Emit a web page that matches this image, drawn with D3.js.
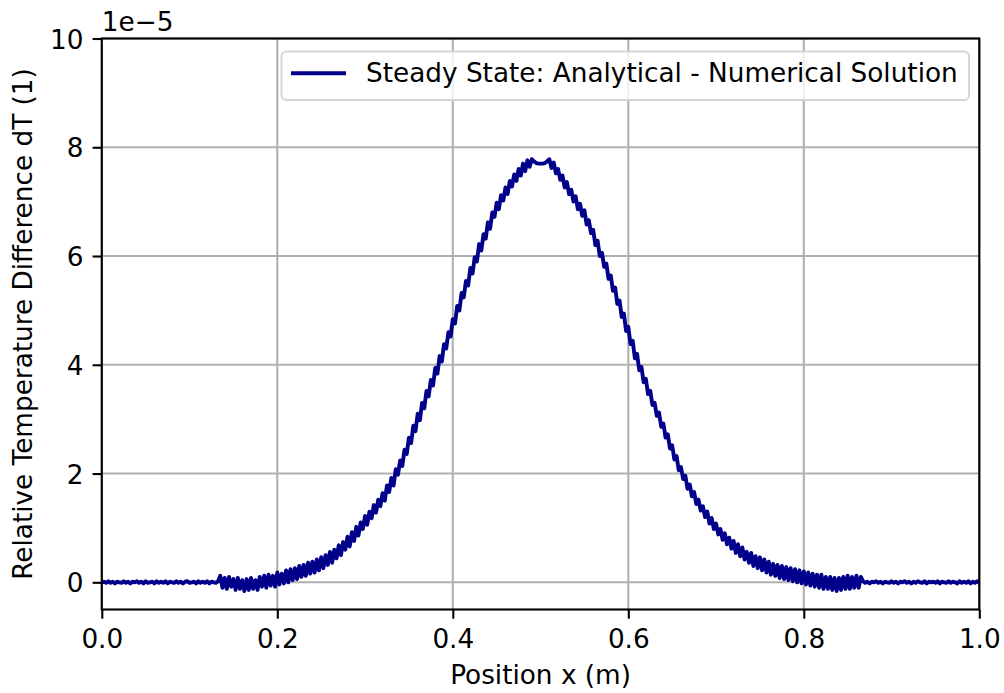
<!DOCTYPE html>
<html>
<head>
<meta charset="utf-8">
<script src="https://cdn.jsdelivr.net/npm/d3@7"></script>
<style>
  body { margin: 0; background: #fff; }
  svg { display: block; font-family: "DejaVu Sans", sans-serif; }
</style>
</head>
<body>
<div class="chart"></div>
<script>
// x grid step of the sampled solution (m)
var xStep = 0.0025;

// dT values, units of 1e-5, one per x step from 0.0 to 1.0
var dTLeftTail = [
  0, 0.01, -0.01, 0.02, -0.01, 0.01, -0.02, 0.01, 0, -0.01,
  0.02, -0.01, 0.01, -0.02, 0.01, 0, 0.02, -0.01, 0.01, -0.02,
  0.02, -0.01, 0, 0.01, -0.02, 0.02, -0.01, 0.01, -0.01, 0.02,
  -0.02, 0.01, 0, -0.01, 0.02, -0.01, 0.01, -0.02, 0.01, 0.02,
  -0.01, 0, 0.01, -0.02, 0.02, -0.01, 0.01, -0.01, 0.02, -0.02,
  0.01, 0, -0.01, 0.02
];
var dTMiddle = [
  0.12, -0.1, 0.08, -0.12, 0.1, -0.08, 0.06, -0.14, 0.08, -0.12,
  0.04, -0.16, 0.06, -0.14, 0.08, -0.12, 0.04, -0.14, 0.1, -0.08,
  0.12, -0.1, 0.14, -0.06, 0.12, -0.08, 0.18, -0.04, 0.16, -0.02,
  0.22, 0.0, 0.24, 0.04, 0.26, 0.06, 0.3, 0.1, 0.32, 0.12,
  0.36, 0.16, 0.38, 0.18, 0.42, 0.22, 0.46, 0.26, 0.5, 0.32,
  0.56, 0.36, 0.6, 0.44, 0.68, 0.5, 0.74, 0.6, 0.84, 0.66,
  0.92, 0.76, 1.02, 0.86, 1.1, 0.98, 1.22, 1.06, 1.3, 1.18,
  1.42, 1.28, 1.52, 1.4, 1.64, 1.5, 1.78, 1.66, 1.92, 1.78,
  2.08, 1.98, 2.24, 2.14, 2.44, 2.36, 2.66, 2.56, 2.88, 2.78,
  3.1, 2.98, 3.3, 3.2, 3.52, 3.42, 3.72, 3.62, 3.94, 3.84,
  4.16, 4.06, 4.38, 4.3, 4.6, 4.52, 4.84, 4.76, 5.08, 5.0,
  5.32, 5.24, 5.54, 5.46, 5.78, 5.68, 5.98, 5.9, 6.22, 6.1,
  6.4, 6.32, 6.62, 6.5, 6.8, 6.72, 6.98, 6.86, 7.12, 7.02,
  7.26, 7.14, 7.38, 7.28, 7.5, 7.38, 7.6, 7.48, 7.7, 7.56,
  7.76, 7.64, 7.78, 7.74, 7.71, 7.7, 7.7, 7.7, 7.71, 7.74,
  7.78, 7.62, 7.72, 7.52, 7.6, 7.4, 7.48, 7.26, 7.36, 7.14,
  7.22, 7.0, 7.1, 6.86, 6.96, 6.74, 6.84, 6.58, 6.66, 6.42,
  6.48, 6.2, 6.28, 6.0, 6.06, 5.8, 5.86, 5.58, 5.64, 5.36,
  5.42, 5.12, 5.18, 4.88, 4.94, 4.62, 4.7, 4.38, 4.44, 4.12,
  4.2, 3.9, 3.96, 3.68, 3.74, 3.46, 3.52, 3.26, 3.3, 3.06,
  3.12, 2.86, 2.92, 2.66, 2.72, 2.46, 2.52, 2.26, 2.32, 2.06,
  2.12, 1.9, 1.96, 1.72, 1.8, 1.58, 1.66, 1.44, 1.52, 1.32,
  1.4, 1.2, 1.3, 1.08, 1.18, 0.98, 1.08, 0.88, 0.98, 0.78,
  0.9, 0.7, 0.82, 0.62, 0.76, 0.54, 0.7, 0.48, 0.64, 0.42,
  0.56, 0.36, 0.54, 0.3, 0.48, 0.26, 0.46, 0.22, 0.42, 0.18,
  0.38, 0.14, 0.34, 0.12, 0.32, 0.08, 0.3, 0.06, 0.28, 0.04,
  0.26, 0.02, 0.24, 0.0, 0.22, -0.02, 0.2, -0.04, 0.18, -0.06,
  0.16, -0.08, 0.14, -0.1, 0.14, -0.12, 0.1, -0.12, 0.1, -0.14,
  0.08, -0.16, 0.08, -0.14, 0.1, -0.12, 0.12, -0.12, 0.1, -0.1,
  0.12, -0.1, 0.1
];
var dTRightTail = [
  0.02, -0.01, 0.01, -0.02, 0.01, 0, 0.02, -0.01, 0.01, -0.02,
  0.01, 0, -0.01, 0.02, -0.01, 0.01, -0.02, 0.01, 0, 0.02,
  -0.01, 0.01, -0.02, 0.01, -0.01, 0.02, 0, -0.01, 0.02, -0.02,
  0.01, 0, 0.01, -0.01, 0.02, -0.02, 0.01, 0, -0.01, 0.02,
  -0.01, 0.01, 0, -0.02, 0.02, -0.01, 0.01, -0.01, 0.02, -0.02,
  0.01, -0.01, 0.02, 0
];

var xTicks = [0, 0.2, 0.4, 0.6, 0.8, 1.0];
var yTicks = [0, 2, 4, 6, 8, 10];
var seriesName = "Steady State: Analytical - Numerical Solution";

var drawChart = function (values) {
    var width = 1004;
    var height = 693;
    var left = 101.8, right = 979.3, top = 38.5, bottom = 609.5;
    var fs = 26.3;
    var tick = 9.2;

    var data = values.map(function (v, i) { return { x: i * xStep, y: v }; });

    var x = d3.scaleLinear().domain([0, 1]).range([left, right]);
    var y = d3.scaleLinear().domain([-0.5, 10]).range([bottom, top]);

    var svg = d3.select(".chart").append("svg")
        .attr("width", width)
        .attr("height", height);

    // grid
    svg.append("g").selectAll("line")
        .data(xTicks).enter().append("line")
        .attr("x1", function (d) { return x(d); })
        .attr("x2", function (d) { return x(d); })
        .attr("y1", top).attr("y2", bottom)
        .attr("stroke", "#b0b0b0").attr("stroke-width", 2.1);
    svg.append("g").selectAll("line")
        .data(yTicks).enter().append("line")
        .attr("y1", function (d) { return y(d); })
        .attr("y2", function (d) { return y(d); })
        .attr("x1", left).attr("x2", right)
        .attr("stroke", "#b0b0b0").attr("stroke-width", 2.1);

    svg.append("clipPath").attr("id", "clip")
        .append("rect").attr("x", left).attr("y", top)
        .attr("width", right - left).attr("height", bottom - top);

    var line = d3.line()
        .x(function (d) { return x(d.x); })
        .y(function (d) { return y(d.y); });

    svg.append("path")
        .datum(data)
        .attr("clip-path", "url(#clip)")
        .attr("d", line)
        .attr("fill", "none")
        .attr("stroke", "#00008b")
        .attr("stroke-width", 3.9)
        .attr("stroke-linejoin", "round")
        .attr("stroke-linecap", "square");

    // axes
    var xAxis = d3.axisBottom(x).tickValues(xTicks)
        .tickSize(tick).tickPadding(tick).tickFormat(d3.format(".1f"));
    var yAxis = d3.axisLeft(y).tickValues(yTicks)
        .tickSize(tick).tickPadding(tick).tickFormat(d3.format("d"));

    var gx = svg.append("g").attr("transform", "translate(0," + bottom + ")").call(xAxis);
    var gy = svg.append("g").attr("transform", "translate(" + left + ",0)").call(yAxis);
    [gx, gy].forEach(function (g) {
        g.select(".domain").remove();
        g.selectAll("line").attr("stroke", "#000").attr("stroke-width", 2.1);
        g.selectAll("text").attr("fill", "#000")
            .style("font-size", fs + "px")
            .style("font-family", "DejaVu Sans");
    });
    gx.selectAll("text").attr("dy", "0.76em");
    gy.selectAll("text").attr("dy", "0.365em");

    // spines
    svg.append("rect")
        .attr("x", left).attr("y", top)
        .attr("width", right - left).attr("height", bottom - top)
        .attr("fill", "none").attr("stroke", "#000").attr("stroke-width", 2.1);

    // offset text
    svg.append("text")
        .attr("x", left).attr("y", 30.5)
        .style("font-size", fs + "px")
        .text("1e\u22125");

    // axis labels
    svg.append("text")
        .attr("x", (left + right) / 2).attr("y", 684)
        .attr("text-anchor", "middle")
        .style("font-size", fs + "px")
        .text("Position x (m)");
    svg.append("text")
        .attr("transform", "translate(32," + ((top + bottom) / 2) + ") rotate(-90)")
        .attr("text-anchor", "middle")
        .style("font-size", fs + "px")
        .text("Relative Temperature Difference dT (1)");

    // legend
    var lg = svg.append("g");
    lg.append("rect")
        .attr("x", 281.5).attr("y", 51.5)
        .attr("width", 687.5).attr("height", 48.5)
        .attr("rx", 5).attr("ry", 5)
        .attr("fill", "rgba(255,255,255,0.8)")
        .attr("stroke", "#d6d6d6").attr("stroke-width", 2);
    lg.append("line")
        .attr("x1", 291).attr("x2", 346)
        .attr("y1", 73.3).attr("y2", 73.3)
        .attr("stroke", "#00008b").attr("stroke-width", 3.9);
    lg.append("text")
        .attr("x", 366).attr("y", 82)
        .style("font-size", fs + "px")
        .text(seriesName);
};

drawChart(dTLeftTail.concat(dTMiddle, dTRightTail));
</script>
</body>
</html>
